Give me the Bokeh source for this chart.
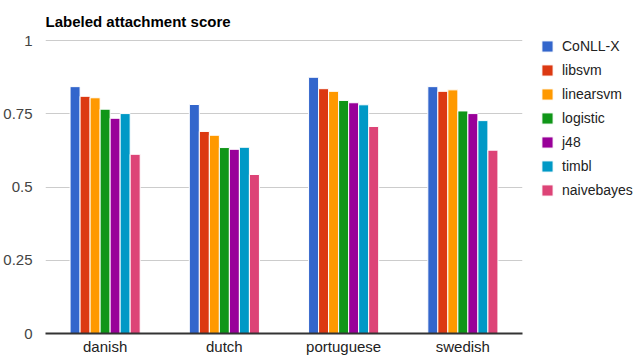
from bokeh.plotting import figure
from bokeh.models import ColumnDataSource, FactorRange, Range1d, Legend, LegendItem, FixedTicker
from bokeh.transform import dodge
from bokeh.embed import file_html
from bokeh.resources import INLINE

languages = ["danish", "dutch", "portuguese", "swedish"]
series = ["CoNLL-X", "libsvm", "linearsvm", "logistic", "j48", "timbl", "naivebayes"]
conllx = [0.843, 0.782, 0.875, 0.843]
libsvm = [0.810, 0.690, 0.836, 0.827]
linearsvm = [0.805, 0.677, 0.827, 0.832]
logistic = [0.766, 0.635, 0.796, 0.760]
j48 = [0.735, 0.629, 0.788, 0.751]
timbl = [0.751, 0.636, 0.781, 0.727]
naivebayes = [0.612, 0.543, 0.707, 0.626]
y_ticks = [0, 0.25, 0.5, 0.75, 1]
y_tick_labels = {0: "0", 0.25: "0.25", 0.5: "0.5", 0.75: "0.75", 1: "1"}

colors = ["#3366cc", "#dc3912", "#ff9900", "#109618", "#990099", "#0099c6", "#dd4477"]
values = [conllx, libsvm, linearsvm, logistic, j48, timbl, naivebayes]

data = {"lang": languages}
for name, vals in zip(series, values):
    data[name] = vals
source = ColumnDataSource(data)

FONT = "Liberation Sans"

p = figure(frame_width=477, frame_height=294, output_backend="svg", toolbar_location=None,
           x_range=FactorRange(*languages, range_padding=0), y_range=Range1d(0, 1.004),
           title="Labeled attachment score",
           min_border_left=44, min_border_right=0, min_border_top=39, min_border_bottom=0)

p.title.text_font = FONT
p.title.text_font_size = "15px"
p.title.text_font_style = "bold"
p.title.text_color = "#000000"
p.title.offset = 0
p.title.standoff = 20

step = 0.084
items = []
for i, (name, col) in enumerate(zip(series, colors)):
    r = p.vbar(x=dodge("lang", (i - 3) * step, range=p.x_range), top=name, width=step,
               source=source, fill_color=col, line_color="white", line_width=1)
    items.append(LegendItem(label=name, renderers=[r]))

legend = Legend(items=items, location=(18, 135), orientation="vertical",
                glyph_width=14, glyph_height=14, label_height=14, spacing=8,
                label_standoff=8, padding=0, margin=0,
                label_text_font=FONT, label_text_font_size="14px", label_text_color="#222222",
                border_line_alpha=0, background_fill_alpha=0)
p.add_layout(legend, "right")

p.outline_line_color = None
p.background_fill_color = "white"
p.border_fill_color = "white"

p.yaxis.ticker = FixedTicker(ticks=y_ticks)
p.yaxis.major_label_overrides = y_tick_labels
p.yaxis.axis_line_color = None
p.yaxis.major_tick_line_color = None
p.yaxis.minor_tick_line_color = None
p.yaxis.major_tick_out = 0
p.yaxis.major_tick_in = 0
p.yaxis.major_label_standoff = 13
p.yaxis.major_label_text_font = FONT
p.yaxis.major_label_text_font_size = "15px"
p.yaxis.major_label_text_color = "#444444"

p.xaxis.axis_line_color = "#333333"
p.xaxis.axis_line_width = 2
p.xaxis.major_tick_line_color = None
p.xaxis.minor_tick_line_color = None
p.xaxis.major_tick_out = 0
p.xaxis.major_tick_in = 0
p.xaxis.major_label_standoff = 4
p.xaxis.major_label_text_font = FONT
p.xaxis.major_label_text_font_size = "15px"
p.xaxis.major_label_text_color = "#222222"

p.xgrid.grid_line_color = None
p.ygrid.grid_line_color = "#cccccc"
p.ygrid.grid_line_width = 1

open("out.html", "w").write(file_html(p, INLINE))
